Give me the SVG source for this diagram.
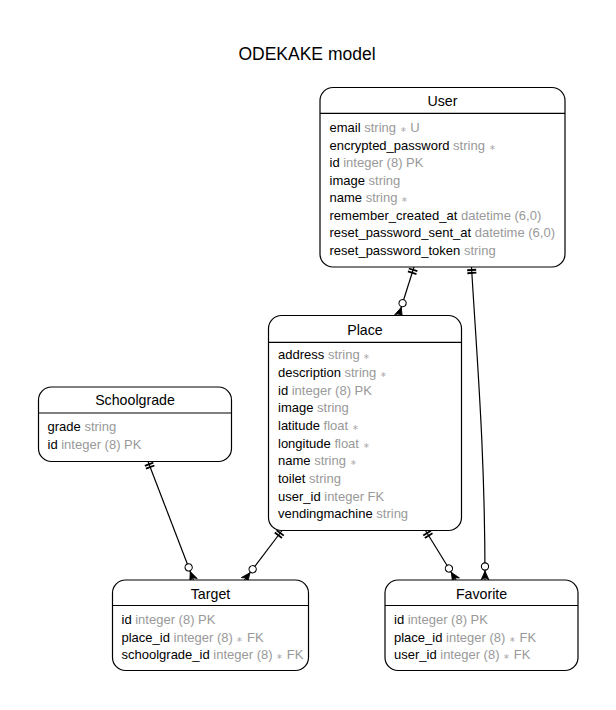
<svg xmlns="http://www.w3.org/2000/svg" width="616" height="710" viewBox="0 0 616 710">
<style>
text{font-family:"Liberation Sans",Arial,Helvetica,sans-serif;fill:#000}
.t{font-size:17.5px;text-anchor:middle}
.h{font-size:14.2px;text-anchor:middle}
.r{font-size:13px}
.g{fill:#999}
.s{fill:#aaa;font-size:8px}
.box{fill:#fff;stroke:#000;stroke-width:1.2}
.sep{stroke:#000;stroke-width:1.2}
.c{fill:none;stroke:#000;stroke-width:1.2}
</style>
<defs>
<marker id="one" markerUnits="userSpaceOnUse" orient="auto" markerWidth="20" markerHeight="20" refX="0" refY="0" viewBox="-10 -10 20 20" overflow="visible">
<path d="M3,-4.5 L3,4.5 M6,-4.5 L6,4.5" stroke="#000" stroke-width="1.8" fill="none"/>
</marker>
<marker id="many" markerUnits="userSpaceOnUse" orient="auto" markerWidth="30" markerHeight="20" refX="0" refY="0" viewBox="-20 -10 30 20" overflow="visible">
<path d="M-9,0 L0,-4 L-2.5,0 L0,4 Z" fill="#000" stroke="#000" stroke-width="0.8"/>
<circle cx="-13.5" cy="0" r="3.6" fill="#fff" stroke="#000" stroke-width="1.1"/>
</marker>
</defs>
<rect width="616" height="710" fill="#fff"/>
<text class="t" x="307" y="60">ODEKAKE model</text>

<g id="connectors">
<path class="c" d="M414,267 L398.5,316" marker-start="url(#one)" marker-end="url(#many)"/>
<path class="c" d="M471.5,267 C477,360 485,450 485,580" marker-start="url(#one)" marker-end="url(#many)"/>
<path class="c" d="M148,461.5 L193.5,580" marker-start="url(#one)" marker-end="url(#many)"/>
<path class="c" d="M282,530.5 L244.5,580" marker-start="url(#one)" marker-end="url(#many)"/>
<path class="c" d="M425.5,530.5 L456,580" marker-start="url(#one)" marker-end="url(#many)"/>
</g>

<g id="User">
<rect class="box" x="320" y="87.5" width="245" height="179.5" rx="13"/>
<line class="sep" x1="320" y1="113.3" x2="565" y2="113.3"/>
<text class="h" x="442.5" y="105.5">User</text>
<text class="r" x="329.5" y="132">email <tspan class="g">string</tspan> <tspan class="s">∗</tspan> <tspan class="g">U</tspan></text>
<text class="r" x="329.5" y="149.5">encrypted_password <tspan class="g">string</tspan> <tspan class="s">∗</tspan></text>
<text class="r" x="329.5" y="167">id <tspan class="g">integer (8) PK</tspan></text>
<text class="r" x="329.5" y="184.5">image <tspan class="g">string</tspan></text>
<text class="r" x="329.5" y="202">name <tspan class="g">string</tspan> <tspan class="s">∗</tspan></text>
<text class="r" x="329.5" y="219.5">remember_created_at <tspan class="g">datetime (6,0)</tspan></text>
<text class="r" x="329.5" y="237">reset_password_sent_at <tspan class="g">datetime (6,0)</tspan></text>
<text class="r" x="329.5" y="254.5">reset_password_token <tspan class="g">string</tspan></text>
</g>

<g id="Place">
<rect class="box" x="268.5" y="315.5" width="193" height="215" rx="13"/>
<line class="sep" x1="268.5" y1="342.3" x2="461.5" y2="342.3"/>
<text class="h" x="365" y="335">Place</text>
<text class="r" x="278" y="359.3">address <tspan class="g">string</tspan> <tspan class="s">∗</tspan></text>
<text class="r" x="278" y="377">description <tspan class="g">string</tspan> <tspan class="s">∗</tspan></text>
<text class="r" x="278" y="394.6">id <tspan class="g">integer (8) PK</tspan></text>
<text class="r" x="278" y="412.3">image <tspan class="g">string</tspan></text>
<text class="r" x="278" y="430">latitude <tspan class="g">float</tspan> <tspan class="s">∗</tspan></text>
<text class="r" x="278" y="447.6">longitude <tspan class="g">float</tspan> <tspan class="s">∗</tspan></text>
<text class="r" x="278" y="465.3">name <tspan class="g">string</tspan> <tspan class="s">∗</tspan></text>
<text class="r" x="278" y="483">toilet <tspan class="g">string</tspan></text>
<text class="r" x="278" y="500.6">user_id <tspan class="g">integer FK</tspan></text>
<text class="r" x="278" y="518.3">vendingmachine <tspan class="g">string</tspan></text>
</g>

<g id="Schoolgrade">
<rect class="box" x="38.5" y="387" width="193" height="74.5" rx="13"/>
<line class="sep" x1="38.5" y1="413" x2="231.5" y2="413"/>
<text class="h" x="135" y="405">Schoolgrade</text>
<text class="r" x="47.5" y="431">grade <tspan class="g">string</tspan></text>
<text class="r" x="47.5" y="449">id <tspan class="g">integer (8) PK</tspan></text>
</g>

<g id="Target">
<rect class="box" x="112.5" y="580" width="196" height="90.5" rx="13"/>
<line class="sep" x1="112.5" y1="605.5" x2="308.5" y2="605.5"/>
<text class="h" x="210.5" y="598.5">Target</text>
<text class="r" x="121.5" y="624.3">id <tspan class="g">integer (8) PK</tspan></text>
<text class="r" x="121.5" y="641.7">place_id <tspan class="g">integer (8)</tspan> <tspan class="s">∗</tspan> <tspan class="g">FK</tspan></text>
<text class="r" x="121.5" y="659.2">schoolgrade_id <tspan class="g">integer (8)</tspan> <tspan class="s">∗</tspan> <tspan class="g">FK</tspan></text>
</g>

<g id="Favorite">
<rect class="box" x="385" y="580" width="193" height="90.5" rx="13"/>
<line class="sep" x1="385" y1="605.5" x2="578" y2="605.5"/>
<text class="h" x="481.5" y="598.5">Favorite</text>
<text class="r" x="394" y="624.3">id <tspan class="g">integer (8) PK</tspan></text>
<text class="r" x="394" y="641.7">place_id <tspan class="g">integer (8)</tspan> <tspan class="s">∗</tspan> <tspan class="g">FK</tspan></text>
<text class="r" x="394" y="659.2">user_id <tspan class="g">integer (8)</tspan> <tspan class="s">∗</tspan> <tspan class="g">FK</tspan></text>
</g>
</svg>
